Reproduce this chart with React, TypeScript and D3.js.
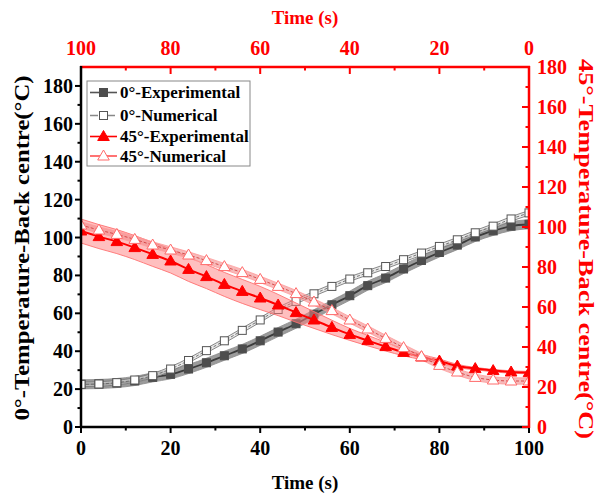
import React from "react";
import * as d3 from "d3";

// Time (s) of each marker, bottom axis (0° series) and top axis (45° series)
const times = [0, 4, 8, 12, 16, 20, 24, 28, 32, 36, 40, 44, 48, 52, 56, 60, 64, 68, 72, 76, 80, 84, 88, 92, 96, 100];

// 0° series (left axis)
const exp0 = [22.5, 22.7, 23.2, 24.3, 26.2, 27.8, 30.6, 33.9, 37.6, 41.2, 45.5, 50.1, 54.5, 59.5, 64.5, 69.3, 74.6, 78.6, 83.4, 87.9, 92.1, 96, 100.3, 103.5, 106, 107];
const exp0Err = [2.4, 2.4, 2.4, 2.4, 2.4, 2.4, 2.4, 2.4, 2.4, 2.4, 2.4, 2.4, 2.4, 2.4, 2.4, 2.4, 2.4, 2.4, 2.4, 2.4, 2.4, 2.4, 2.4, 2.4, 2.4, 2.4];
const num0 = [22.5, 22.7, 23.4, 24.8, 27.1, 30.6, 35.1, 40.3, 45.5, 51, 56.5, 62, 66.3, 70.3, 74.2, 78.1, 81.4, 84.7, 88.3, 91.8, 95.3, 98.8, 102.5, 106, 109.8, 113];
const num0Err = [1.2, 1.2, 1.2, 1.2, 1.2, 1.2, 1.2, 1.2, 1.2, 1.2, 1.2, 1.2, 1.2, 1.2, 1.2, 1.2, 1.2, 1.2, 1.2, 1.2, 1.2, 1.2, 1.2, 1.2, 1.2, 1.2];

// 45° series (right axis, top reversed time axis)
const exp45 = [27.2, 27.5, 28.2, 29.2, 30.5, 33, 35, 37.3, 40.2, 43.2, 46.3, 49.8, 53.5, 57.2, 61, 64.5, 67.8, 71.3, 75.2, 78.8, 83, 86.3, 89.7, 92.7, 95.2, 98];
const exp45Err = [0.6, 0.6, 0.6, 0.6, 0.8, 1, 1.3, 1.7, 2.2, 2.6, 3, 3.6, 4.2, 4.8, 5.3, 5.8, 6, 6, 6, 6, 6, 6, 6, 6, 6, 6];
const num45 = [23, 23, 23.5, 24.8, 27.5, 30.8, 35.2, 39.7, 44.3, 49, 53.5, 58.2, 62.5, 66.7, 70.3, 73.8, 77.2, 80.2, 83.2, 86, 88.5, 91, 93.8, 96.3, 98.5, 101];
const num45Err = [1.6, 1.6, 1.6, 1.6, 1.6, 1.6, 1.6, 1.6, 1.6, 1.6, 1.6, 1.6, 1.6, 1.6, 1.6, 1.6, 1.6, 1.6, 1.6, 1.6, 1.6, 1.6, 1.6, 1.6, 1.6, 1.6];

const xTicks = [0, 20, 40, 60, 80, 100];
const xMinor = [10, 30, 50, 70, 90];
const yTicks = [0, 20, 40, 60, 80, 100, 120, 140, 160, 180];
const yMinorL = [10, 30, 50, 70, 90, 110, 130, 150, 170];
const yMinorR = [10, 30, 50, 70, 90, 110, 130, 150, 170];

const legendItems = ["0°-Experimental", "0°-Numerical", "45°-Experimental", "45°-Numerical"];

const FONT = "'Liberation Serif', 'Times New Roman', serif";
const RED = "#ff0000";

export default function App() {
  const L = 81, R = 529, T = 67, B = 427;
  const x = d3.scaleLinear().domain([0, 100]).range([L, R]);
  const xTop = d3.scaleLinear().domain([0, 100]).range([R, L]);
  const yL = d3.scaleLinear().domain([0, 190]).range([B, T]);
  const yR = d3.scaleLinear().domain([0, 180]).range([B, T]);

  type P = { t: number; v: number; e: number };
  const mk = (vals: number[], errs: number[]): P[] => times.map((t, i) => ({ t, v: vals[i], e: errs[i] }));
  const s0e = mk(exp0, exp0Err);
  const s0n = mk(num0, num0Err);
  const s45e = mk(exp45, exp45Err);
  const s45n = mk(num45, num45Err);

  const lineL = d3.line<P>().x(d => x(d.t)).y(d => yL(d.v)).curve(d3.curveMonotoneX);
  const areaL = d3.area<P>().x(d => x(d.t)).y0(d => yL(d.v - d.e)).y1(d => yL(d.v + d.e)).curve(d3.curveMonotoneX);
  const lineR = d3.line<P>().x(d => xTop(d.t)).y(d => yR(d.v)).curve(d3.curveMonotoneX);
  const areaR = d3.area<P>().x(d => xTop(d.t)).y0(d => yR(d.v - d.e)).y1(d => yR(d.v + d.e)).curve(d3.curveMonotoneX);

  const sq = (cx: number, cy: number, fill: string, stroke: string, key: string | number) => (
    <rect key={key} x={cx - 4} y={cy - 4} width={8} height={8} fill={fill} stroke={stroke} strokeWidth={1} />
  );
  const tri = (cx: number, cy: number, fill: string, stroke: string, key: string | number) => (
    <path key={key} d={`M${cx},${cy - 6}L${cx + 5.8},${cy + 4}L${cx - 5.8},${cy + 4}Z`} fill={fill} stroke={stroke} strokeWidth={1} />
  );

  const lgX = 87, lgY = 81;
  const rowY = [92.5, 115.5, 136.5, 156];
  const TF = 20;

  return (
    <svg width={605} height={495} style={{ position: "absolute", left: 0, top: 0, background: "#fff" }} fontFamily={FONT}>
      <rect x={0} y={0} width={605} height={495} fill="#fff" />
      <defs>
        <clipPath id="plot"><rect x={L} y={T} width={R - L} height={B - T} /></clipPath>
      </defs>

      <g clipPath="url(#plot)">
        {/* 0° layer */}
        <path d={areaL(s0e) || ""} fill="#7a7a7a" fillOpacity={0.75} stroke="#8a8a8a" strokeWidth={0.8} />
        <path d={lineL(s0e) || ""} fill="none" stroke="#3c3c3c" strokeWidth={1.8} />
        <path d={areaL(s0n) || ""} fill="#d8d8d8" fillOpacity={0.6} stroke="#7a7a7a" strokeWidth={0.9} />
        <path d={lineL(s0n) || ""} fill="none" stroke="#666" strokeWidth={0.9} strokeDasharray="3,2" />
        {s0e.map((d, i) => sq(x(d.t), yL(d.v), "#4d4d4d", "#4d4d4d", "e0" + i))}
        {s0n.map((d, i) => sq(x(d.t), yL(d.v), "#ffffff", "#555", "n0" + i))}

        {/* 45° layer */}
        <path d={areaR(s45e) || ""} fill="#ff8080" fillOpacity={0.5} stroke="#ff7070" strokeWidth={0.9} />
        <path d={lineR(s45e) || ""} fill="none" stroke={RED} strokeWidth={2} />
        <path d={areaR(s45n) || ""} fill="#f28a8a" fillOpacity={0.6} stroke="#ff9a9a" strokeWidth={0.8} />
        <path d={lineR(s45n) || ""} fill="none" stroke="#d04040" strokeWidth={0.9} strokeDasharray="3,2" />
        {s45e.map((d, i) => tri(xTop(d.t), yR(d.v), RED, RED, "e45" + i))}
        {s45n.map((d, i) => tri(xTop(d.t), yR(d.v), "#ffffff", "#ff6a6a", "n45" + i))}
      </g>

      {/* Bottom axis */}
      <line x1={L - 1} x2={R} y1={B} y2={B} stroke="#000" strokeWidth={2.5} />
      {xTicks.map(t => <line key={"bx" + t} x1={x(t)} x2={x(t)} y1={B} y2={B + 6} stroke="#000" strokeWidth={2} />)}
      {xMinor.map(t => <line key={"bxm" + t} x1={x(t)} x2={x(t)} y1={B} y2={B + 3.5} stroke="#000" strokeWidth={2} />)}
      {xTicks.map(t => (
        <text key={"bxl" + t} x={x(t)} y={B + 28} textAnchor="middle" fontSize={TF} fontWeight="bold">{t}</text>
      ))}
      <text x={(L + R) / 2} y={489} textAnchor="middle" fontSize={19} fontWeight="bold">Time (s)</text>

      {/* Top axis */}
      <line x1={L - 1} x2={R + 1} y1={T} y2={T} stroke={RED} strokeWidth={2.5} />
      {xTicks.map(t => <line key={"tx" + t} x1={xTop(t)} x2={xTop(t)} y1={T} y2={T + 7} stroke={RED} strokeWidth={2} />)}
      {xMinor.map(t => <line key={"txm" + t} x1={xTop(t)} x2={xTop(t)} y1={T} y2={T + 3.5} stroke={RED} strokeWidth={2} />)}
      {xTicks.map(t => (
        <text key={"txl" + t} x={xTop(t)} y={T - 12} textAnchor="middle" fontSize={TF} fontWeight="bold" fill={RED}>{t}</text>
      ))}
      <text x={(L + R) / 2} y={24} textAnchor="middle" fontSize={19} fontWeight="bold" fill={RED}>Time (s)</text>

      {/* Left axis */}
      <line x1={L} x2={L} y1={T - 1} y2={B + 1} stroke="#000" strokeWidth={2.5} />
      {yTicks.map(v => <line key={"ly" + v} x1={L - 6} x2={L} y1={yL(v)} y2={yL(v)} stroke="#000" strokeWidth={2} />)}
      {yMinorL.map(v => <line key={"lym" + v} x1={L - 3.5} x2={L} y1={yL(v)} y2={yL(v)} stroke="#000" strokeWidth={2} />)}
      {yTicks.map(v => (
        <text key={"lyl" + v} x={L - 8} y={yL(v) + 7} textAnchor="end" fontSize={TF} fontWeight="bold">{v}</text>
      ))}
      <text transform={`translate(29,248) rotate(-90)`} textAnchor="middle" fontSize={20} fontWeight="bold" textLength={345} lengthAdjust="spacingAndGlyphs">0°-Temperature-Back centre(°C)</text>

      {/* Right axis */}
      <line x1={R} x2={R} y1={T - 1} y2={B + 1} stroke={RED} strokeWidth={2.5} />
      {yTicks.map(v => <line key={"ry" + v} x1={R - 7} x2={R} y1={yR(v)} y2={yR(v)} stroke={RED} strokeWidth={2} />)}
      {yMinorR.map(v => <line key={"rym" + v} x1={R - 3.5} x2={R} y1={yR(v)} y2={yR(v)} stroke={RED} strokeWidth={2} />)}
      {yTicks.map(v => (
        <text key={"ryl" + v} x={R + 8} y={yR(v) + 7} textAnchor="start" fontSize={TF} fontWeight="bold" fill={RED}>{v}</text>
      ))}
      <text transform={`translate(579,249) rotate(90)`} textAnchor="middle" fontSize={20} fontWeight="bold" fill={RED} textLength={380} lengthAdjust="spacingAndGlyphs">45°-Temperature-Back centre(°C)</text>

      {/* Legend */}
      <rect x={lgX} y={lgY} width={163} height={85} fill="#fff" stroke="#888" strokeWidth={1} />
      {legendItems.map((name, i) => {
        const cy = rowY[i];
        const lineColor = i === 0 ? "#555" : i === 1 ? "#888" : i === 2 ? RED : "#ff5050";
        return (
          <g key={name}>
            <line x1={90} x2={117} y1={cy} y2={cy} stroke={lineColor} strokeWidth={1.6} strokeDasharray={i === 1 ? "8,3,3,3" : undefined} />
            {i === 0 && sq(103.5, cy, "#4d4d4d", "#4d4d4d", "lg0")}
            {i === 1 && sq(103.5, cy, "#fff", "#555", "lg1")}
            {i === 2 && tri(103.5, cy, RED, RED, "lg2")}
            {i === 3 && tri(103.5, cy, "#fff", "#ff6a6a", "lg3")}
            <text x={120} y={cy + 5.5} fontSize={17} fontWeight="bold">{name}</text>
          </g>
        );
      })}
    </svg>
  );
}
